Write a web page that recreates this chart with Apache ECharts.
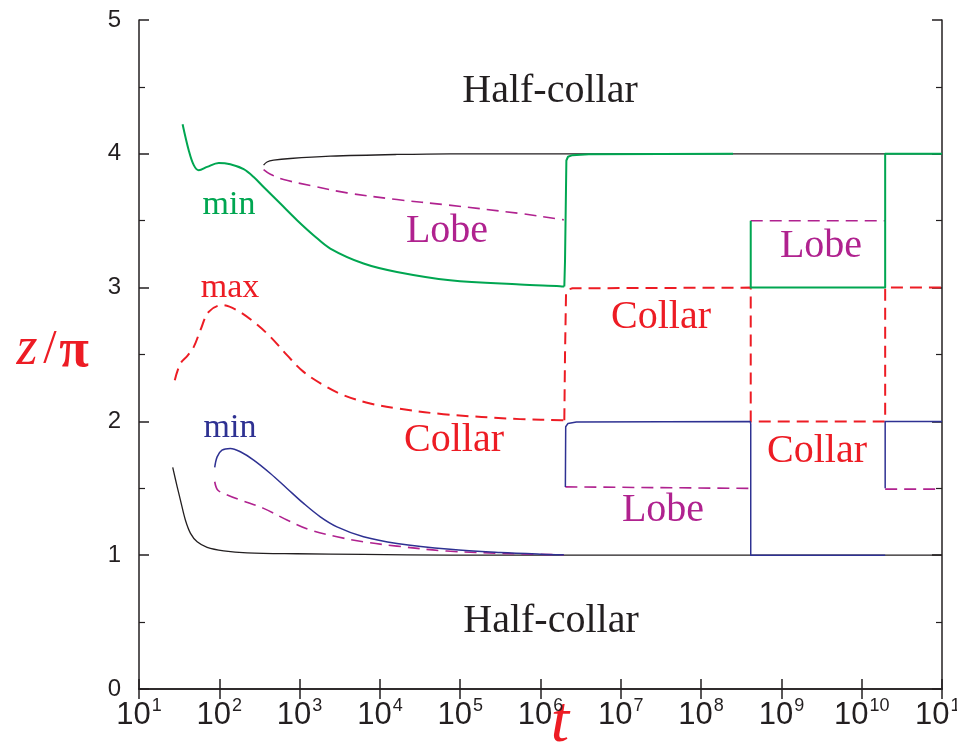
<!DOCTYPE html>
<html>
<head>
<meta charset="utf-8">
<script src="https://cdn.jsdelivr.net/npm/echarts@6/dist/echarts.min.js"></script>
<style>
  html, body { margin: 0; padding: 0; background: #fff; }
  #chart { width: 957px; height: 752px; }
</style>
</head>
<body>
<div id="chart"></div>
<script>
// ---- data: time t (log scale) and z/pi for each boundary curve ----
const blackLowT = [26.3, 29.9, 32.8, 37.8, 43.8, 53.0, 70.5, 113.5, 222, 929, 6250, 74800, 1e11];
const blackLowZ = [1.656, 1.511, 1.412, 1.263, 1.163, 1.100, 1.059, 1.033, 1.018, 1.011, 1.006, 1.001, 1.0];

const blackHighT = [356, 393, 475, 766, 2410, 16300, 74800, 1e11];
const blackHighZ = [3.915, 3.939, 3.952, 3.965, 3.982, 3.995, 4.0, 4.0];

const greenT = [34.9, 41.6, 48.1, 55.5, 70.5, 98.4, 137, 201, 268, 356, 575, 929, 1490, 2410, 6250, 16300, 74800, 556000, 1.75e6, 1.98e6];
const greenZ = [4.221, 4.027, 3.915, 3.877, 3.902, 3.932, 3.922, 3.885, 3.827, 3.752, 3.628, 3.504, 3.392, 3.292, 3.180, 3.117, 3.055, 3.023, 3.011, 3.008];
const greenStepT = [1.98e6, 2.02e6, 2.1e6, 2.2e6, 2.5e6, 4e6, 2.5e8];
const greenStepZ = [3.008, 3.2, 3.95, 3.978, 3.99, 3.997, 4.0];
const greenStep2T = [4.15e8, 4.15e8, 1.96e10, 1.96e10, 1e11];
const greenStep2Z = [3.5, 3.0, 3.0, 4.0, 4.0];

const redT = [27.9, 32.8, 39.8, 48.1, 58.2, 73.8, 108, 166, 268, 433, 697, 1122, 1990, 3520, 7570, 16300, 61800, 556000, 1.85e6, 1.98e6];
const redZ = [2.308, 2.433, 2.488, 2.557, 2.682, 2.819, 2.869, 2.831, 2.744, 2.632, 2.495, 2.370, 2.271, 2.196, 2.134, 2.097, 2.054, 2.017, 2.009, 2.008];
const redStepT = [1.98e6, 2.02e6, 2.08e6, 2.2e6, 2.5e6, 4.15e8, 4.15e8, 1.96e10, 1.96e10, 1e11];
const redStepZ = [2.008, 2.5, 2.96, 2.985, 2.995, 3.0, 2.0, 2.0, 3.0, 3.0];

const blueT = [87.7, 94.0, 108, 137, 183, 268, 433, 697, 1122, 1810, 2920, 6250, 16300, 74800, 316000, 1e6, 1.95e6];
const blueZ = [1.656, 1.735, 1.785, 1.798, 1.773, 1.711, 1.611, 1.499, 1.387, 1.287, 1.212, 1.138, 1.088, 1.044, 1.02, 1.008, 1.004];
const blueStepT = [2.04e6, 2.06e6, 2.2e6, 2.8e6, 4.1e8, 4.15e8, 4.15e8, 1.96e10];
const blueStepZ = [1.51, 1.96, 1.985, 1.995, 2.0, 1.98, 1.0, 1.0];
const blueStep2T = [1.96e10, 1.96e10, 1e11];
const blueStep2Z = [1.5, 2.0, 2.0];

const lobeUpT = [356, 433, 632, 1490, 3890, 16300, 68100, 556000, 1.75e6, 1.95e6];
const lobeUpZ = [3.882, 3.847, 3.808, 3.758, 3.708, 3.658, 3.618, 3.554, 3.511, 3.506];
const lobeUp2T = [4.15e8, 1.96e10];
const lobeUp2Z = [3.5, 3.5];

const lobeLowT = [87.7, 95.5, 119, 183, 356, 697, 1358, 2920, 6250, 16300, 68100, 556000, 1.95e6];
const lobeLowZ = [1.549, 1.487, 1.457, 1.412, 1.350, 1.263, 1.188, 1.138, 1.100, 1.068, 1.031, 1.01, 1.003];
const lobeLow2T = [2.04e6, 4.15e8];
const lobeLow2Z = [1.511, 1.499];
const lobeLow3T = [1.96e10, 1e11];
const lobeLow3Z = [1.494, 1.494];

const yTicks = [0, 1, 2, 3, 4, 5];

// ---- colours ----
const INK = '#231f20';
const GREEN = '#00a651';
const RED = '#ed1c24';
const BLUE = '#2e3192';
const PURPLE = '#b0228f';

function pairs(ts, zs) { return ts.map((t, i) => [t, zs[i]]); }

function line(ts, zs, color, width, dashed, smooth) {
  return {
    type: 'line',
    data: pairs(ts, zs),
    showSymbol: false,
    symbol: 'none',
    smooth: smooth ? 0.35 : false,
    animation: false,
    silent: true,
    lineStyle: { color: color, width: width, type: dashed ? [12, 7] : 'solid', cap: 'butt', join: 'round' },
    z: 3
  };
}

const chart = echarts.init(document.getElementById('chart'), null, { renderer: 'canvas' });

const xCommon = {
  type: 'log',
  logBase: 10,
  min: 10,
  max: 1e11,
  interval: 1,
  splitNumber: 10,
  axisLine: { show: true, lineStyle: { color: INK, width: 1.5 } },
  axisTick: { show: true, inside: true, length: 10, lineStyle: { color: INK, width: 1.5 } },
  minorTick: { show: false },
  splitLine: { show: false }
};
const yCommon = {
  type: 'value',
  min: 0,
  max: 5,
  interval: 1,
  axisLine: { show: true, lineStyle: { color: INK, width: 1.5 } },
  axisTick: { show: true, inside: true, length: 10, lineStyle: { color: INK, width: 1.5 } },
  minorTick: { show: true, splitNumber: 2, length: 6, lineStyle: { color: INK, width: 1.2 } },
  splitLine: { show: false }
};

const option = {
  backgroundColor: '#ffffff',
  animation: false,
  grid: { left: 139, top: 20, width: 803, height: 669, containLabel: false, outerBoundsMode: 'none' },
  xAxis: [
    Object.assign({}, xCommon, {
      position: 'bottom',
      axisLabel: {
        margin: 8,
        hideOverlap: false,
        showMinLabel: true,
        showMaxLabel: true,
        formatter: function (v) { return '{b|10}{s|' + Math.round(Math.log10(v)) + '}'; },
        rich: {
          b: { fontFamily: 'Liberation Sans Narrow, Liberation Sans, Arial', fontSize: 31, color: INK, lineHeight: 36 },
          s: { fontFamily: 'Liberation Sans Narrow, Liberation Sans, Arial', fontSize: 18, color: INK, verticalAlign: 'top', lineHeight: 36, padding: [0, 0, 14, 1] }
        }
      }
    }),
    Object.assign({}, xCommon, { position: 'top', axisLabel: { show: false } })
  ],
  yAxis: [
    Object.assign({}, yCommon, {
      position: 'left',
      axisLabel: {
        margin: 18,
        fontFamily: 'Liberation Sans, Arial',
        fontSize: 24,
        color: INK,
        formatter: function (v) { return yTicks.indexOf(v) >= 0 ? String(v) : ''; }
      }
    }),
    Object.assign({}, yCommon, { position: 'right', axisLabel: { show: false } })
  ],
  series: [
    line(blackLowT, blackLowZ, INK, 1.3, false, true),
    line(blackHighT, blackHighZ, INK, 1.3, false, true),
    line(lobeUpT, lobeUpZ, PURPLE, 1.6, true, true),
    line(lobeUp2T, lobeUp2Z, PURPLE, 1.6, true, false),
    line(lobeLowT, lobeLowZ, PURPLE, 1.6, true, true),
    line(lobeLow2T, lobeLow2Z, PURPLE, 1.6, true, false),
    line(lobeLow3T, lobeLow3Z, PURPLE, 1.6, true, false),
    line(redT, redZ, RED, 2, true, true),
    line(redStepT, redStepZ, RED, 2, true, false),
    line(blueT, blueZ, BLUE, 1.5, false, true),
    line(blueStepT, blueStepZ, BLUE, 1.5, false, false),
    line(blueStep2T, blueStep2Z, BLUE, 1.5, false, false),
    line(greenT, greenZ, GREEN, 2, false, true),
    line(greenStepT, greenStepZ, GREEN, 2, false, false),
    line(greenStep2T, greenStep2Z, GREEN, 2, false, false)
  ],
  graphic: [
    // region names
    { type: 'text', silent: true, style: { text: 'Half-collar', x: 550, y: 91, fill: INK, font: '40px "Liberation Serif", "Times New Roman", serif', textAlign: 'center', textVerticalAlign: 'middle' } },
    { type: 'text', silent: true, style: { text: 'Half-collar', x: 551, y: 621, fill: INK, font: '40px "Liberation Serif", "Times New Roman", serif', textAlign: 'center', textVerticalAlign: 'middle' } },
    { type: 'text', silent: true, style: { text: 'min', x: 229, y: 205, fill: GREEN, font: '34px "Liberation Serif", serif', textAlign: 'center', textVerticalAlign: 'middle' } },
    { type: 'text', silent: true, style: { text: 'max', x: 230, y: 288, fill: RED, font: '34px "Liberation Serif", serif', textAlign: 'center', textVerticalAlign: 'middle' } },
    { type: 'text', silent: true, style: { text: 'min', x: 230, y: 428, fill: BLUE, font: '34px "Liberation Serif", serif', textAlign: 'center', textVerticalAlign: 'middle' } },
    { type: 'text', silent: true, style: { text: 'Lobe', x: 447, y: 231, fill: PURPLE, font: '40px "Liberation Serif", serif', textAlign: 'center', textVerticalAlign: 'middle' } },
    { type: 'text', silent: true, style: { text: 'Lobe', x: 663, y: 510, fill: PURPLE, font: '40px "Liberation Serif", serif', textAlign: 'center', textVerticalAlign: 'middle' } },
    { type: 'text', silent: true, style: { text: 'Lobe', x: 821, y: 246, fill: PURPLE, font: '40px "Liberation Serif", serif', textAlign: 'center', textVerticalAlign: 'middle' } },
    { type: 'text', silent: true, style: { text: 'Collar', x: 661, y: 317, fill: RED, font: '40px "Liberation Serif", serif', textAlign: 'center', textVerticalAlign: 'middle' } },
    { type: 'text', silent: true, style: { text: 'Collar', x: 454, y: 440, fill: RED, font: '40px "Liberation Serif", serif', textAlign: 'center', textVerticalAlign: 'middle' } },
    { type: 'text', silent: true, style: { text: 'Collar', x: 817, y: 451, fill: RED, font: '40px "Liberation Serif", serif', textAlign: 'center', textVerticalAlign: 'middle' } },
    // axis titles
    { type: 'text', silent: true, style: { text: 'z', x: 27, y: 350, fill: RED, font: 'italic 54px "Liberation Serif", serif', textAlign: 'center', textVerticalAlign: 'middle' } },
    { type: 'text', silent: true, style: { text: '/', x: 50, y: 350, fill: RED, font: '48px "Liberation Serif", serif', textAlign: 'center', textVerticalAlign: 'middle' } },
    { type: 'text', silent: true, style: { text: 'π', x: 74, y: 352, fill: RED, font: 'bold 54px "Liberation Serif", serif', textAlign: 'center', textVerticalAlign: 'middle' } },
    { type: 'text', silent: true, style: { text: 't', x: 560, y: 724, fill: RED, font: 'italic 66px "Liberation Serif", serif', textAlign: 'center', textVerticalAlign: 'middle' } }
  ]
};

chart.setOption(option);
</script>
</body>
</html>
